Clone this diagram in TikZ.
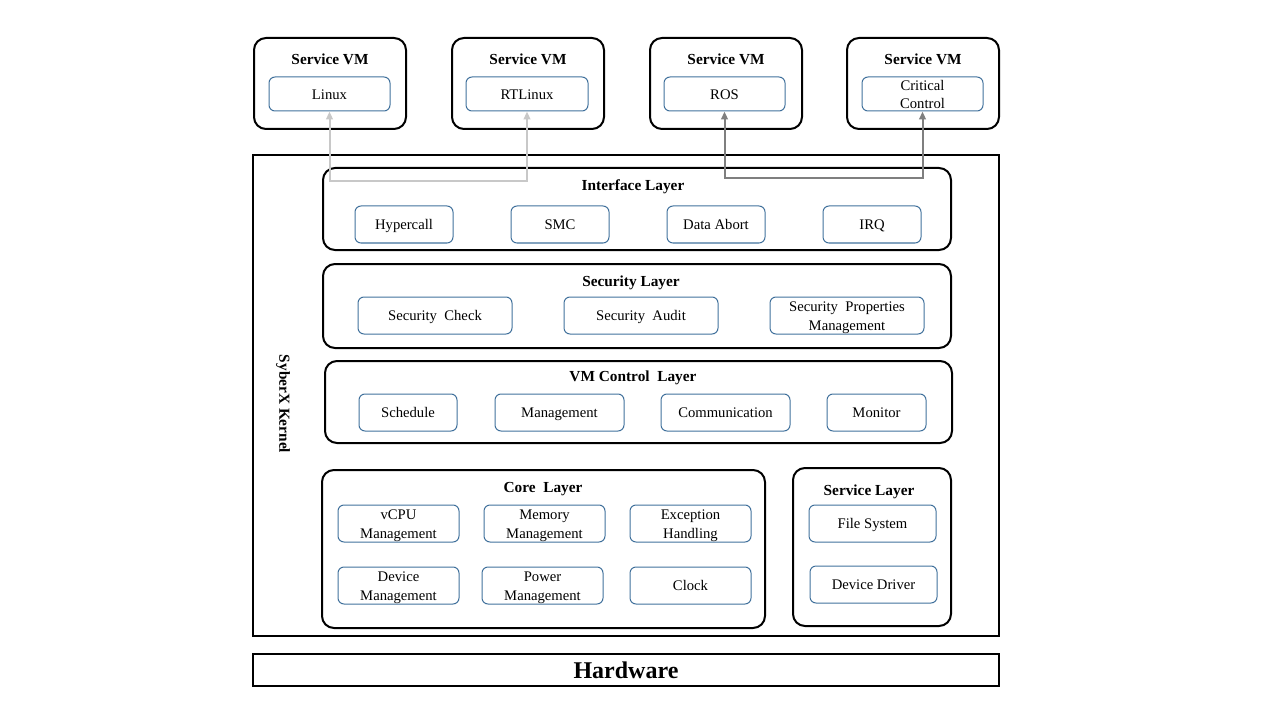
\documentclass[tikz,border=0pt]{standalone}
\usepackage{fontspec}
\setmainfont{Liberation Serif}
\usetikzlibrary{arrows.meta}
\definecolor{ibl}{HTML}{41719C}
\definecolor{lgr}{HTML}{C8C8C8}
\definecolor{dgr}{HTML}{7F7F7F}
\newcommand\pbox[7]{\node[#2, minimum width={(#5-#3)*0.75pt}, minimum height={(#6-#4)*0.75pt}] (#1) at ({(#3+#5)/2},{(#4+#6)/2}) {#7};}
\tikzset{
  outerbox/.style={draw=black, line width=1.5pt, rounded corners=9pt, inner sep=0pt},
  plainbox/.style={draw=black, line width=1.5pt, inner sep=0pt},
  itembox/.style={draw=ibl, line width=0.75pt, rounded corners=4.5pt, inner sep=0pt, align=center, font=\fontsize{11}{14}\selectfont},
  oneline/.style={text height=9pt, text depth=1pt},
  twoline/.style={text height=24pt, text depth=1.5pt},
  ttl/.style={font=\bfseries\fontsize{11.5}{14}\selectfont, inner sep=0pt, text height=9.5pt, text depth=1pt},
  larrow/.style={draw=lgr, line width=1.5pt, {Triangle[length=6pt,width=5pt]}-{Triangle[length=6pt,width=5pt]}},
  darrow/.style={draw=dgr, line width=1.5pt, {Triangle[length=6pt,width=5pt]}-{Triangle[length=6pt,width=5pt]}}
}
\begin{document}
\begin{tikzpicture}[x=0.75pt,y=-0.75pt]
\useasboundingbox (0,0) rectangle (1280,720);
% Service VMs
\pbox{vm1}{outerbox}{254}{38}{406}{129}{}
\pbox{vm2}{outerbox}{452}{38}{604}{129}{}
\pbox{vm3}{outerbox}{650}{38}{802}{129}{}
\pbox{vm4}{outerbox}{847}{38}{999}{129}{}
\node[ttl] (vm1t) at (330,59) {Service VM};
\node[ttl] (vm2t) at (528,59) {Service VM};
\node[ttl] (vm3t) at (726,59) {Service VM};
\node[ttl] (vm4t) at (923,59) {Service VM};
\pbox{linux}{itembox,oneline}{269}{77}{390}{111}{Linux}
\pbox{rtlinux}{itembox,oneline}{466}{77}{588}{111}{RTLinux}
\pbox{ros}{itembox,oneline}{664}{77}{785}{111}{ROS}
\pbox{crit}{itembox,twoline}{862}{77}{983}{111}{Critical\\Control}
% Kernel
\pbox{kernel}{plainbox}{253}{155}{999}{636}{}
\node[font=\bfseries\fontsize{11.5}{14}\selectfont, rotate=-90] (kt) at (283,404) {SyberX Kernel};
% Interface layer
\pbox{iface}{outerbox}{323}{168}{951}{250}{}
\node[ttl] (ifacet) at (633,185) {Interface Layer};
\pbox{hyp}{itembox,oneline}{355}{206}{453}{243}{Hypercall}
\pbox{smc}{itembox,oneline}{511}{206}{609}{243}{SMC}
\pbox{dab}{itembox,oneline}{667}{206}{765}{243}{Data Abort}
\pbox{irq}{itembox,oneline}{823}{206}{921}{243}{IRQ}
% Security layer
\pbox{sec}{outerbox}{323}{264}{951}{348}{}
\node[ttl] (sect) at (631,281) {Security Layer};
\pbox{scheck}{itembox,oneline}{358}{297}{512}{334}{Security\ \ Check}
\pbox{saudit}{itembox,oneline}{564}{297}{718}{334}{Security\ \ Audit}
\pbox{sprop}{itembox,twoline}{770}{297}{924}{334}{Security\ \ Properties\\Management}
% VM control layer
\pbox{vmc}{outerbox}{325}{361}{952}{443}{}
\node[ttl] (vmct) at (633,376) {VM Control\ \ Layer};
\pbox{sched}{itembox,oneline}{359}{394}{457}{431}{Schedule}
\pbox{mgmt}{itembox,oneline}{495}{394}{624}{431}{Management}
\pbox{comm}{itembox,oneline}{661}{394}{790}{431}{Communication}
\pbox{mon}{itembox,oneline}{827}{394}{926}{431}{Monitor}
% Core layer
\pbox{core}{outerbox}{322}{470}{765}{628}{}
\node[ttl] (coret) at (543,487) {Core\ \ Layer};
\pbox{vcpu}{itembox,twoline}{338}{505}{459}{542}{vCPU\\Management}
\pbox{mem}{itembox,twoline}{484}{505}{605}{542}{Memory\\Management}
\pbox{exc}{itembox,twoline}{630}{505}{751}{542}{Exception\\Handling}
\pbox{dev}{itembox,twoline}{338}{567}{459}{604}{Device\\Management}
\pbox{pow}{itembox,twoline}{482}{567}{603}{604}{Power\\Management}
\pbox{clk}{itembox,oneline}{630}{567}{751}{604}{Clock}
% Service layer
\pbox{svc}{outerbox}{793}{468}{951}{626}{}
\node[ttl] (svct) at (869,490) {Service Layer};
\pbox{fs}{itembox,oneline}{809}{505}{936}{542}{File System}
\pbox{dd}{itembox,oneline}{810}{566}{937}{603}{Device Driver}
% Hardware
\pbox{hw}{plainbox}{253}{654}{999}{686}{\bfseries\fontsize{18}{20}\selectfont Hardware}
% Connectors
\draw[larrow] (linux.south) -- ++(0,70) -| (rtlinux.south);
\draw[darrow] (ros.south) -- ++(0,67) -| (crit.south);
\end{tikzpicture}
\end{document}
